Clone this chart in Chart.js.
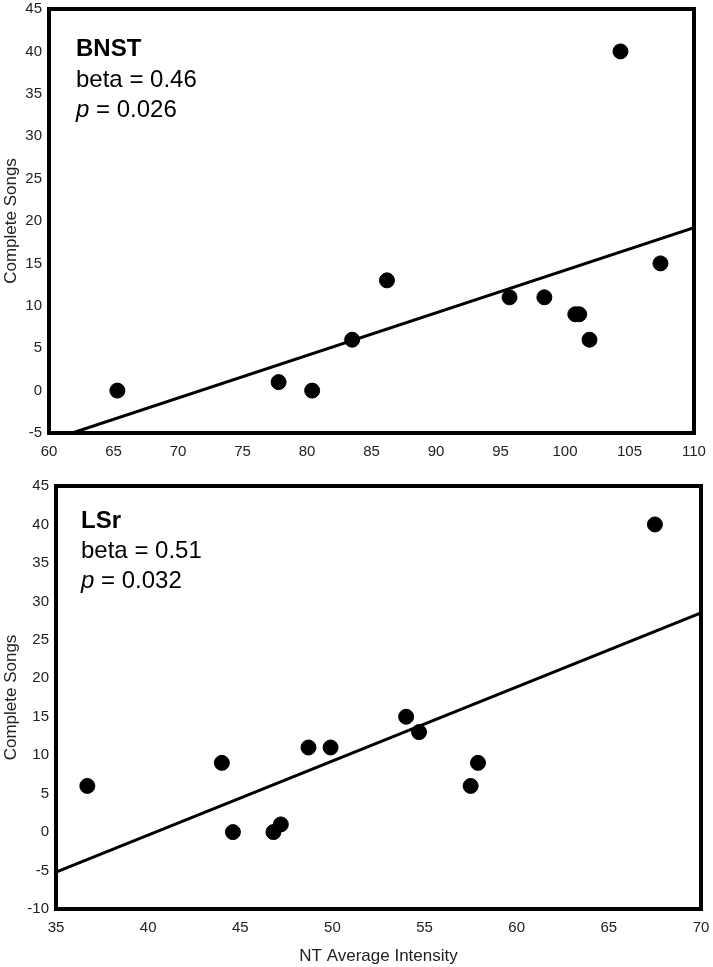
<!DOCTYPE html>
<html>
<head>
<meta charset="utf-8">
<script src="https://cdn.jsdelivr.net/npm/chart.js@4/dist/chart.umd.min.js"></script>
<style>
  body{margin:0;background:#fff;}
  canvas{position:absolute;left:0;}
  #bnstChart{top:0;}
  #lsrChart{top:460px;}
</style>
</head>
<body>
<canvas id="bnstChart" width="713" height="460"></canvas>
<canvas id="lsrChart" width="713" height="507"></canvas>
<script>
//1- data
// BNST panel
const bnstX=[65.3,77.8,80.4,83.5,86.2,95.7,98.4,100.8,101.1,101.9,104.3,107.4];
const bnstY=[0,1,0,6,13,11,11,9,9,6,40,15];
const bnstFitX=[61.8,110];
const bnstFitY=[-5,19.2];
const bnstText=['BNST','beta = 0.46','0.026'];
// LSr panel
const lsrX=[36.7,44.0,44.6,46.8,47.2,48.7,49.9,54.0,54.7,57.5,57.9,67.5];
const lsrY=[6,9,0,0,1,11,11,15,13,6,9,40];
const lsrFitX=[35,70];
const lsrFitY=[-5.2,28.5];
const lsrText=['LSr','beta = 0.51','0.032'];
// axes
const bnstXTicks=[60,110];
const bnstYTicks=[-5,45];
const lsrXTicks=[35,70];
const lsrYTicks=[-10,45];
const yTitle='Complete Songs';
const xTitle='NT Average Intensity';

const FONT='"Liberation Sans", Arial, sans-serif';

//2- plugin: black frame round the plot + the stats text
const framePlugin={
    id:'frame',
    afterDraw(chart,args,opts){
        const a=chart.chartArea, c=chart.ctx;
        c.save();
        c.strokeStyle='#000';
        c.lineWidth=4;
        c.strokeRect(a.left,a.top,a.right-a.left,a.bottom-a.top);
        const t=opts.text, x=a.left+opts.dx;
        c.fillStyle='#000';
        c.textBaseline='alphabetic';
        c.font='bold 24px '+FONT;
        c.fillText(t[0],x,a.top+opts.dy[0]);
        c.font='24px '+FONT;
        c.fillText(t[1],x,a.top+opts.dy[1]);
        c.font='italic 24px '+FONT;
        c.fillText('p',x,a.top+opts.dy[2]);
        const w=c.measureText('p').width;
        c.font='24px '+FONT;
        c.fillText(' = '+t[2],x+w,a.top+opts.dy[2]);
        c.restore();
    }
};

//3- build one panel
function makeChart(id,xs,ys,fitX,fitY,xr,yr,text,pad,yWidth,xHeight,showXTitle,dy,dx){
    const pts=xs.map((v,i)=>({x:v,y:ys[i]}));
    const fit=fitX.map((v,i)=>({x:v,y:fitY[i]}));
    return new Chart(document.getElementById(id).getContext('2d'),{
        type:'scatter',
        data:{datasets:[
            {data:pts,backgroundColor:'#000',borderColor:'#000',pointRadius:7.5,pointHoverRadius:7.5},
            {type:'line',data:fit,borderColor:'#000',borderWidth:3,pointRadius:0,fill:false,showLine:true}
        ]},
        options:{
            responsive:false,
            animation:false,
            layout:{padding:pad},
            plugins:{legend:{display:false},tooltip:{enabled:false},
                frame:{text:text,dx:dx,dy:dy}},
            scales:{
                x:{type:'linear',min:xr[0],max:xr[1],
                    grid:{display:false,drawTicks:false},border:{display:false},
                    ticks:{stepSize:5,padding:10,color:'#222',font:{family:FONT,size:15}},
                    title:{display:showXTitle,text:xTitle,color:'#222',font:{family:FONT,size:17},padding:{top:0,bottom:0}},
                    afterFit(s){s.height=xHeight;s.paddingLeft=0;s.paddingRight=0;}},
                y:{type:'linear',min:yr[0],max:yr[1],
                    grid:{display:false,drawTicks:false},border:{display:false},
                    ticks:{stepSize:5,padding:7,color:'#222',font:{family:FONT,size:15}},
                    title:{display:true,text:yTitle,color:'#222',font:{family:FONT,size:17},padding:{top:1,bottom:0}},
                    afterFit(s){s.width=yWidth;s.paddingTop=0;s.paddingBottom=0;}}
            }
        },
        plugins:[framePlugin]
    });
}

//4- create the charts
makeChart('bnstChart',bnstX,bnstY,bnstFitX,bnstFitY,bnstXTicks,bnstYTicks,bnstText,
    {top:9,right:19,left:0,bottom:0},49,27,false,[47,78,108],27);
makeChart('lsrChart',lsrX,lsrY,lsrFitX,lsrFitY,lsrXTicks,lsrYTicks,lsrText,
    {top:26,right:12,left:0,bottom:0},56,58,true,[42,72,102],25);
</script>
</body>
</html>
